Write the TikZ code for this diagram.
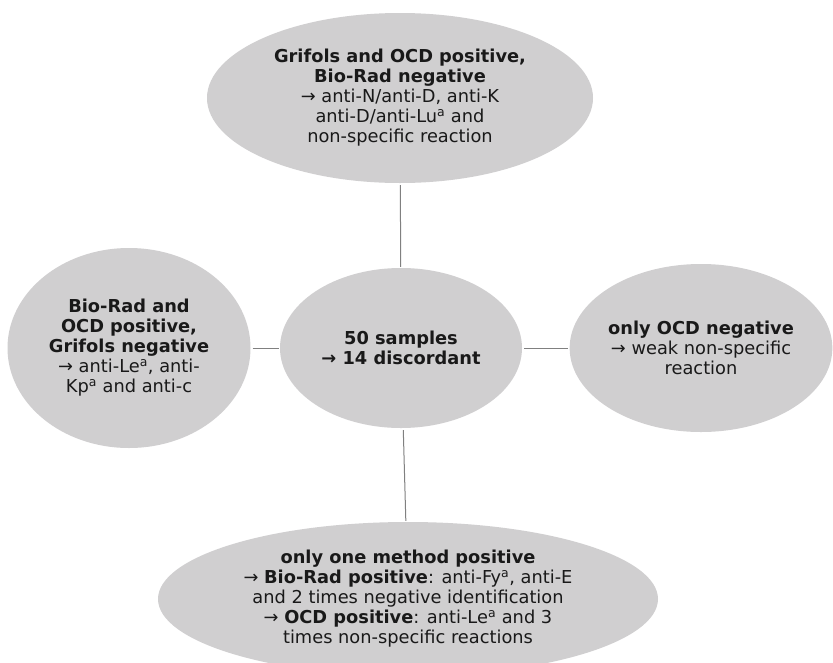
\documentclass[tikz,border=0pt]{standalone}
\usepackage{fontspec}
\setmainfont{DejaVu Sans}
\usetikzlibrary{shapes.geometric}
\definecolor{bubblegray}{RGB}{208,207,208}
\definecolor{linkgray}{RGB}{128,128,128}
\tikzset{
  bubble/.style={ellipse, fill=bubblegray, inner sep=0pt, align=center,
    text=black!90, font=\fontsize{17.8}{20}\selectfont},
  link/.style={draw=linkgray, line width=1pt, shorten <=2pt, shorten >=1pt}
}
\begin{document}
\begin{tikzpicture}[x=1pt,y=-1pt]
\clip (0,0) rectangle (833,662);
\fill[white] (0,0) rectangle (833,662);
\node[bubble, minimum width=242pt, minimum height=160pt] (mid) at (401,348)
  {\textbf{50 samples}\\\textbf{→ 14 discordant}};
\node[bubble, minimum width=386pt, minimum height=170pt] (grif) at (400,98)
  {\textbf{Grifols and OCD positive,}\\\textbf{Bio-Rad negative}\\→ anti-N/anti-D, anti-K\\anti-D/anti-Lu\textsuperscript{a} and\\non-specific reaction};
\node[bubble, minimum width=243pt, minimum height=200pt] (bio) at (129,348)
  {\textbf{Bio-Rad and}\\\textbf{OCD positive,}\\\textbf{Grifols negative}\\→ anti-Le\textsuperscript{a}, anti-\\Kp\textsuperscript{a} and anti-c};
\node[bubble, minimum width=260pt, minimum height=168pt] (ocd) at (701,348)
  {\textbf{only OCD negative}\\→ weak non-specific\\reaction};
\node[bubble, minimum width=500pt, minimum height=154pt] (one) at (408,599)
  {\textbf{only one method positive}\\→ \textbf{Bio-Rad positive}: anti-Fy\textsuperscript{a}, anti-E\\and 2 times negative identification\\→ \textbf{OCD positive}: anti-Le\textsuperscript{a} and 3\\times non-specific reactions};
\draw [link] (grif) -- (mid);
\draw [link] (bio) -- (mid);
\draw [link] (mid) -- (ocd);
\draw [link] (mid) -- (one);
\end{tikzpicture}
\end{document}
